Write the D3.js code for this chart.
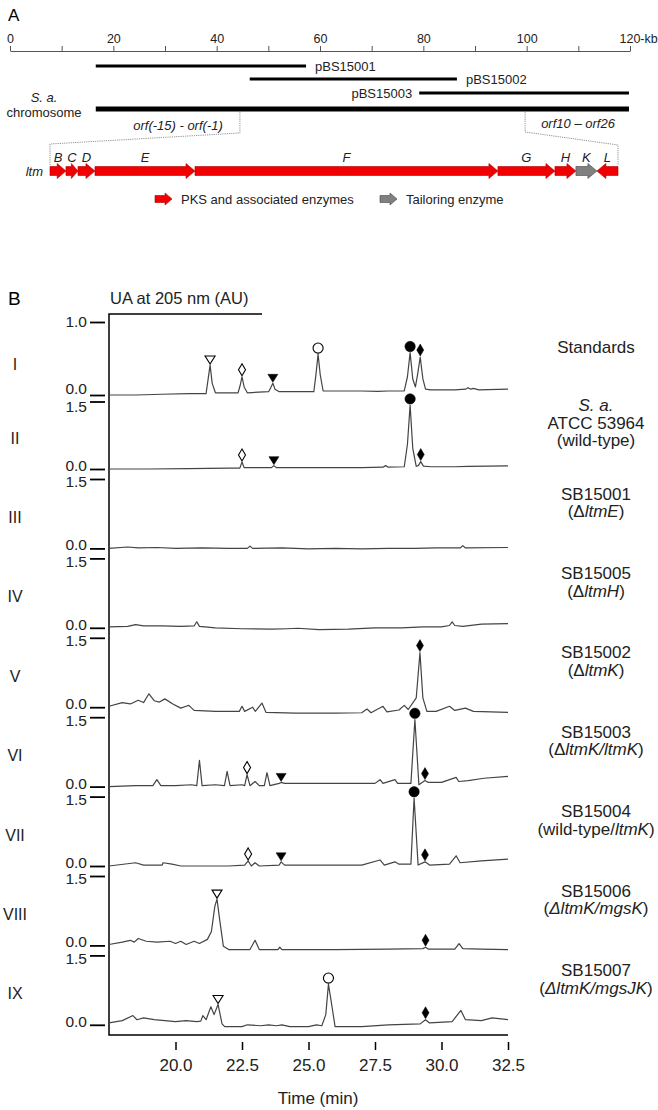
<!DOCTYPE html>
<html>
<head>
<meta charset="utf-8">
<script src="https://cdn.jsdelivr.net/npm/d3@7"></script>
<style>
  body { margin: 0; background: #fff; }
  svg { font-family: "Liberation Sans", Arial, sans-serif; }
</style>
</head>
<body>
<div id="chart"></div>
<script>
// ---------- panel A data ----------
const rulerTicks = [0, 10, 20, 30, 40, 50, 60, 70, 80, 90, 100, 110, 120];
const plasmidNames = ["pBS15001", "pBS15002", "pBS15003"];
const plasmidStart = [16.6, 46.4, 79.2];
const plasmidEnd = [57.3, 86.5, 119.8];
const plasmidLabelSide = ["right", "right", "left"];
const chromosome = [16.6, 119.8];
const clusterSpan = [44.5, 99.7]; // ltm region on the chromosome (kb)

const geneNames = ["B", "C", "D", "E", "F", "G", "H", "K", "L"];
const geneStart = [44.5, 46.05, 47.22, 48.87, 58.59, 88.03, 93.57, 95.61, 97.65];
const geneEnd = [46.05, 47.22, 48.87, 58.59, 88.03, 93.57, 95.61, 97.65, 99.7];
const geneStrand = [1, 1, 1, 1, 1, 1, 1, 1, -1];
const geneType = ["pks", "pks", "pks", "pks", "pks", "pks", "pks", "tailor", "pks"];
const legendTypes = ["pks", "tailor"];
const legendLabels = ["PKS and associated enzymes", "Tailoring enzyme"];

// ---------- panel B data ----------
const traceNames = ["I", "II", "III", "IV", "V", "VI", "VII", "VIII", "IX"];
const yTickMax = [1.0, 1.5, 1.5, 1.5, 1.5, 1.5, 1.5, 1.5, 1.5];
const timeTicks = [20.0, 22.5, 25.0, 27.5, 30.0, 32.5];

// [time (min), absorbance (AU)]
const traceStandards = [[17.5,0],[18.5,0.0],[19.5,0.01],[20.5,0.02],[21.15,0.02],[21.22,0.2],[21.3,0.41],[21.38,0.16],[21.5,0.03],[22.35,0.03],[22.43,0.13],[22.5,0.25],[22.58,0.11],[22.7,0.03],[23.5,0.045],[23.58,0.1],[23.66,0.16],[23.74,0.08],[23.9,0.045],[25.2,0.045],[25.28,0.28],[25.36,0.56],[25.44,0.28],[25.55,0.055],[26.5,0.055],[27.0,0.055],[27.6,0.05],[28.0,0.055],[28.6,0.055],[28.72,0.25],[28.82,0.58],[28.92,0.22],[29.02,0.11],[29.1,0.28],[29.2,0.52],[29.3,0.22],[29.4,0.08],[29.6,0.07],[30.5,0.07],[30.9,0.08],[31.0,0.1],[31.1,0.08],[31.2,0.09],[31.4,0.07],[32.5,0.08]];
const traceWT = [[17.5,0],[19.0,0.0],[20.5,0.01],[22.0,0.02],[22.42,0.02],[22.5,0.155],[22.58,0.03],[23.6,0.03],[23.7,0.075],[23.8,0.03],[25.5,0.03],[27.0,0.03],[27.8,0.04],[27.9,0.075],[28.0,0.04],[28.6,0.05],[28.72,0.55],[28.82,1.42],[28.92,0.46],[29.05,0.06],[29.13,0.075],[29.22,0.165],[29.32,0.065],[29.6,0.05],[30.5,0.05],[31.0,0.06],[32.5,0.07]];
const traceSB15001 = [[17.5,0],[18.2,0.03],[18.6,0.01],[19.3,0.02],[20.0,0.0],[21.0,0.01],[22.0,0.0],[22.7,0.0],[22.8,0.05],[22.9,0.0],[24.0,0.01],[25.0,-0.01],[26.0,0.0],[27.0,-0.01],[28.0,0.0],[29.0,0.0],[29.8,0.01],[30.3,0.01],[30.7,0.01],[30.8,0.06],[30.9,0.01],[32.5,0.02]];
const traceSB15005 = [[17.5,0.02],[18.2,0.03],[18.5,0.07],[18.8,0.04],[19.5,0.04],[20.2,0.03],[20.7,0.04],[20.8,0.13],[20.9,0.03],[21.5,0.0],[22.5,-0.02],[23.6,-0.03],[24.2,-0.02],[24.6,-0.01],[25.4,-0.04],[26.5,-0.03],[27.5,0.0],[28.5,0.0],[29.3,0.02],[30.0,0.02],[30.3,0.05],[30.4,0.13],[30.5,0.05],[30.8,0.03],[31.5,0.08],[32.5,0.09]];
const traceSB15002 = [[17.5,0.02],[18.0,0.1],[18.3,0.07],[18.6,0.15],[18.8,0.1],[19.0,0.29],[19.2,0.14],[19.4,0.11],[19.6,0.18],[19.9,0.07],[20.2,-0.02],[20.4,0.02],[20.5,0.04],[20.7,-0.07],[21.5,-0.09],[22.4,-0.09],[22.5,0.02],[22.6,-0.09],[22.9,0.0],[23.0,-0.09],[23.25,0.09],[23.4,-0.11],[24.5,-0.13],[26.0,-0.13],[27.0,-0.12],[27.2,-0.04],[27.35,-0.12],[27.8,0.02],[27.95,-0.1],[28.4,-0.06],[28.6,0.04],[28.75,-0.05],[29.05,0.2],[29.19,1.18],[29.3,0.2],[29.45,-0.09],[29.8,-0.09],[30.3,0.02],[30.5,-0.07],[30.9,-0.02],[31.2,-0.09],[32.5,-0.11]];
const traceSB15003 = [[17.5,0],[18.5,0.02],[19.15,0.02],[19.3,0.15],[19.45,0.02],[20.0,0.02],[20.6,0.04],[20.8,0.02],[20.9,0.57],[21.0,0.02],[21.5,0.04],[21.84,0.02],[21.94,0.33],[22.05,0.02],[22.5,0.04],[22.6,0.02],[22.69,0.26],[22.8,0.02],[22.99,0.11],[23.15,0.02],[23.34,0.02],[23.44,0.3],[23.55,0.02],[23.9,0.07],[23.97,0.09],[24.1,0.07],[26.0,0.07],[27.5,0.07],[27.69,0.15],[27.8,0.07],[28.25,0.15],[28.35,0.07],[28.85,0.07],[29.0,1.45],[29.15,0.04],[29.38,0.13],[29.5,0.09],[30.0,0.09],[30.55,0.2],[30.65,0.11],[31.0,0.13],[31.6,0.18],[32.5,0.22]];
const traceSB15004 = [[17.5,0],[18.5,0.07],[18.8,0.02],[19.5,0.02],[19.53,0.07],[19.87,0.04],[20.2,0.0],[21.0,0.0],[22.0,0.0],[22.6,0.02],[22.73,0.11],[22.85,0.0],[22.99,0.07],[23.15,0.0],[23.9,0.02],[23.97,0.09],[24.1,0.02],[25.0,0.02],[26.0,0.02],[27.0,0.02],[27.69,0.13],[27.85,0.02],[28.25,0.09],[28.4,0.04],[28.85,0.04],[28.97,1.47],[29.12,0.02],[29.38,0.09],[29.55,0.02],[30.3,0.04],[30.55,0.22],[30.7,0.07],[31.5,0.11],[32.5,0.15]];
const traceSB15006 = [[17.5,0.02],[18.0,0.07],[18.3,0.11],[18.45,0.07],[18.6,0.15],[18.9,0.09],[19.3,0.07],[19.8,0.09],[20.0,0.04],[20.2,0.09],[20.4,0.02],[20.7,0.09],[20.9,0.04],[21.2,0.13],[21.35,0.3],[21.48,0.85],[21.56,1.0],[21.65,0.6],[21.8,-0.02],[22.0,-0.09],[22.8,-0.09],[22.99,0.11],[23.15,-0.09],[23.85,-0.09],[23.92,-0.04],[24.0,-0.09],[26.0,-0.09],[28.0,-0.08],[29.3,-0.07],[29.4,-0.04],[29.5,-0.08],[30.5,-0.08],[30.66,0.04],[30.8,-0.07],[31.5,-0.08],[32.5,-0.09]];
const traceSB15007 = [[17.5,0.04],[18.0,0.09],[18.4,0.2],[18.55,0.11],[18.8,0.15],[19.2,0.11],[19.6,0.09],[20.0,0.07],[20.4,0.09],[20.8,0.07],[20.95,0.08],[21.03,0.2],[21.15,0.11],[21.33,0.39],[21.45,0.22],[21.6,0.44],[21.75,0.02],[21.85,-0.04],[22.5,-0.04],[22.7,0.0],[23.2,-0.02],[23.5,0.0],[23.8,-0.02],[24.0,0.0],[24.3,-0.04],[25.0,-0.04],[25.3,0.0],[25.5,-0.02],[25.65,0.22],[25.75,0.88],[25.9,0.33],[26.0,-0.04],[27.0,-0.04],[28.0,0.0],[29.2,0.02],[29.4,0.11],[29.55,0.04],[30.4,0.07],[30.73,0.31],[30.9,0.11],[31.5,0.09],[31.9,0.15],[32.5,0.11]];
const traces = [traceStandards, traceWT, traceSB15001, traceSB15005, traceSB15002, traceSB15003, traceSB15004, traceSB15006, traceSB15007];

// peak markers: [trace index, time, shape]
const peakMarkers = [
  [0, 21.3, "triOpen"], [0, 22.5, "diaOpen"], [0, 23.66, "triFill"], [0, 25.36, "circOpen"], [0, 28.82, "circFill"], [0, 29.2, "diaFill"],
  [1, 28.82, "circFill"], [1, 22.5, "diaOpen"], [1, 23.7, "triFill"], [1, 29.22, "diaFill"],
  [4, 29.19, "diaFill"],
  [5, 29.0, "circFill"], [5, 29.38, "diaFill"], [5, 22.69, "diaOpen"], [5, 23.97, "triFill"],
  [6, 28.97, "circFill"], [6, 29.38, "diaFill"], [6, 22.73, "diaOpen"], [6, 23.97, "triFill"],
  [7, 21.56, "triOpen"], [7, 29.4, "diaFill"],
  [8, 21.6, "triOpen"], [8, 25.75, "circOpen"], [8, 29.4, "diaFill"]
];

// sample labels: lines of [text, italic]
const sampleLabels = [
  [[["Standards", 0]]],
  [[["S. a.", 1]], [["ATCC 53964", 0]], [["(wild-type)", 0]]],
  [[["SB15001", 0]], [["(Δ", 0], ["ltmE", 1], [")", 0]]],
  [[["SB15005", 0]], [["(Δ", 0], ["ltmH", 1], [")", 0]]],
  [[["SB15002", 0]], [["(Δ", 0], ["ltmK", 1], [")", 0]]],
  [[["SB15003", 0]], [["(Δ", 0], ["ltmK/ltmK", 1], [")", 0]]],
  [[["SB15004", 0]], [["(wild-type/", 0], ["ltmK", 1], [")", 0]]],
  [[["SB15006", 0]], [["(", 0], ["ΔltmK/mgsK", 1], [")", 0]]],
  [[["SB15007", 0]], [["(", 0], ["ΔltmK/mgsJK", 1], [")", 0]]]
];

const width = 658, height = 1110;
const svg = d3.select("#chart").append("svg")
  .attr("width", width)
  .attr("height", height);

// ================= Panel A =================
svg.append("text").attr("x", 8).attr("y", 21).attr("font-size", 17).text("A");

const kbX = d3.scaleLinear().domain([0, 120]).range([10, 630]);
const geneX = d3.scaleLinear().domain(clusterSpan).range([50, 618]);

const ruler = svg.append("g")
  .attr("transform", "translate(0,51)")
  .call(d3.axisTop(kbX).tickValues(rulerTicks).tickSize(5).tickSizeOuter(0).tickPadding(3)
    .tickFormat(d => d % 20 === 0 ? d : ""));
ruler.selectAll("path, line").attr("stroke", "#555");
ruler.selectAll("text").attr("font-size", 12.5).attr("fill", "#222")
  .attr("font-family", "Liberation Sans, Arial, sans-serif");
ruler.selectAll("text").filter(d => d === 120)
  .attr("text-anchor", "start").attr("x", -11).text("120-kb");

// plasmid bars
const plasmidY = [66, 79, 93];
plasmidNames.forEach((name, i) => {
  svg.append("line")
    .attr("x1", kbX(plasmidStart[i])).attr("x2", kbX(plasmidEnd[i]))
    .attr("y1", plasmidY[i]).attr("y2", plasmidY[i])
    .attr("stroke", "#000").attr("stroke-width", 3.2);
  const right = plasmidLabelSide[i] === "right";
  svg.append("text")
    .attr("x", right ? kbX(plasmidEnd[i]) + 9 : kbX(plasmidStart[i]) - 7)
    .attr("y", plasmidY[i]).attr("dy", "0.35em")
    .attr("text-anchor", right ? "start" : "end")
    .attr("font-size", 13).attr("fill", "#222")
    .text(name);
});

// chromosome
svg.append("line")
  .attr("x1", kbX(chromosome[0])).attr("x2", kbX(chromosome[1]))
  .attr("y1", 109).attr("y2", 109)
  .attr("stroke", "#000").attr("stroke-width", 5);
svg.append("text").attr("x", 44).attr("y", 97.5).attr("dy", "0.35em")
  .attr("text-anchor", "middle").attr("font-size", 13).attr("font-style", "italic").attr("fill", "#222")
  .text("S. a.");
svg.append("text").attr("x", 44).attr("y", 112).attr("dy", "0.35em")
  .attr("text-anchor", "middle").attr("font-size", 13).attr("fill", "#222")
  .text("chromosome");

svg.append("text").attr("x", 178).attr("y", 125).attr("dy", "0.35em")
  .attr("text-anchor", "middle").attr("font-size", 13).attr("font-style", "italic").attr("fill", "#222")
  .text("orf(-15) - orf(-1)");
svg.append("text").attr("x", 578).attr("y", 123).attr("dy", "0.35em")
  .attr("text-anchor", "middle").attr("font-size", 13).attr("font-style", "italic").attr("fill", "#222")
  .text("orf10 – orf26");

// zoom-in guide lines
const geneY = 171;
const guide = d3.line();
[[kbX(clusterSpan[0]), geneX.range()[0], 133, 144], [kbX(clusterSpan[1]), geneX.range()[1], 132, 145]].forEach(g => {
  svg.append("path")
    .attr("d", guide([[g[0], 112], [g[0], g[2]], [g[1], g[3]], [g[1], geneY - 6]]))
    .attr("fill", "none").attr("stroke", "#777").attr("stroke-width", 0.8)
    .attr("stroke-dasharray", "1.2,1");
});

// gene arrows
const geneColor = { pks: "#f00000", tailor: "#808080" };
const geneStroke = { pks: "#b00000", tailor: "#444" };
function arrowPath(x0, x1, cy, strand, h, H, maxHead) {
  const len = x1 - x0;
  const hl = Math.min(maxHead, len * 0.55);
  if (strand > 0) {
    return `M${x0},${cy - h}L${x1 - hl},${cy - h}L${x1 - hl},${cy - H}L${x1},${cy}L${x1 - hl},${cy + H}L${x1 - hl},${cy + h}L${x0},${cy + h}Z`;
  }
  return `M${x1},${cy - h}L${x0 + hl},${cy - h}L${x0 + hl},${cy - H}L${x0},${cy}L${x0 + hl},${cy + H}L${x0 + hl},${cy + h}L${x1},${cy + h}Z`;
}
svg.append("text").attr("x", 43).attr("y", geneY).attr("dy", "0.35em")
  .attr("text-anchor", "end").attr("font-size", 13).attr("font-style", "italic").attr("fill", "#222")
  .text("ltm");
geneNames.forEach((g, i) => {
  const x0 = geneX(geneStart[i]), x1 = geneX(geneEnd[i]);
  svg.append("path")
    .attr("d", arrowPath(x0, x1, geneY, geneStrand[i], 4.5, 7.5, 9))
    .attr("fill", geneColor[geneType[i]])
    .attr("stroke", geneStroke[geneType[i]]).attr("stroke-width", 0.6);
  svg.append("text")
    .attr("x", (x0 + x1) / 2).attr("y", 157).attr("dy", "0.35em")
    .attr("text-anchor", "middle").attr("font-size", 13).attr("font-style", "italic").attr("fill", "#222")
    .text(g);
});

// legend
const legendX = [155, 380];
legendTypes.forEach((t, i) => {
  svg.append("path")
    .attr("d", arrowPath(legendX[i], legendX[i] + 17, 199, 1, 3.5, 6, 7))
    .attr("fill", geneColor[t]).attr("stroke", geneStroke[t]).attr("stroke-width", 0.6);
  svg.append("text")
    .attr("x", legendX[i] + 26).attr("y", 199).attr("dy", "0.35em")
    .attr("font-size", 13).attr("fill", "#222")
    .text(legendLabels[i]);
});

// ================= Panel B =================
svg.append("text").attr("x", 8).attr("y", 298).attr("dy", "0.35em").attr("font-size", 19).text("B");
svg.append("text").attr("x", 110).attr("y", 298).attr("dy", "0.35em").attr("font-size", 16.5).attr("fill", "#222")
  .text("UA at 205 nm (AU)");

const plotLeft = 109, plotRight = 508, plotTop = 314, plotBottom = 1035;
const tx = d3.scaleLinear().domain([17.5, 32.5]).range([plotLeft, plotRight]);
const zeroY = i => i === 0 ? 395 : 469 + 79.4 * (i - 1);
const topY = i => i === 0 ? 322 : zeroY(i - 1) + (i === 1 ? 6.5 : 10);

// frame
svg.append("path")
  .attr("d", `M262,${plotTop}H${plotLeft}V${plotBottom}H${plotRight}`)
  .attr("fill", "none").attr("stroke", "#000").attr("stroke-width", 1.5);

// x axis (detached ticks)
const xAxis = svg.append("g")
  .attr("transform", `translate(0,${plotBottom + 7})`)
  .call(d3.axisBottom(tx).tickValues(timeTicks).tickSize(8).tickPadding(9).tickFormat(d3.format(".1f")));
xAxis.select(".domain").remove();
xAxis.selectAll("line").attr("stroke", "#000").attr("stroke-width", 1.5);
xAxis.selectAll("text").attr("font-size", 17).attr("fill", "#222")
  .attr("font-family", "Liberation Sans, Arial, sans-serif");

svg.append("text").attr("x", 318).attr("y", 1098).attr("dy", "0.35em")
  .attr("text-anchor", "middle").attr("font-size", 17).attr("fill", "#222")
  .text("Time (min)");

const line = d3.line();
const shapes = {
  triOpen: "M-5,-4L5,-4L0,4Z",
  triFill: "M-5,-4L5,-4L0,4Z",
  diaOpen: "M0,-6L3.5,0L0,6L-3.5,0Z",
  diaFill: "M0,-6L3.5,0L0,6L-3.5,0Z",
  circOpen: d3.symbol(d3.symbolCircle, 80)(),
  circFill: d3.symbol(d3.symbolCircle, 85)()
};
const shapeHalf = { triOpen: 4, triFill: 4, diaOpen: 6, diaFill: 6, circOpen: 5, circFill: 5.2 };

traces.forEach((data, i) => {
  const ys = d3.scaleLinear().domain([0, yTickMax[i]]).range([zeroY(i), topY(i)]);
  const g = svg.append("g");

  const yAxis = g.append("g")
    .attr("transform", "translate(105,0)")
    .call(d3.axisLeft(ys).tickValues([0, yTickMax[i]]).tickSize(15).tickPadding(3).tickFormat(d3.format(".1f")));
  yAxis.select(".domain").remove();
  yAxis.selectAll("line").attr("stroke", "#000").attr("stroke-width", 1.8);
  // zero label sits just above its dash, top label just below
  const zeroShift = i === 0 ? -6.5 : -3.5;
  const topShift = i === 0 ? 0 : (i === 1 ? 5.5 : 3);
  yAxis.selectAll("text").attr("font-size", 15.5).attr("fill", "#222")
    .attr("font-family", "Liberation Sans, Arial, sans-serif")
    .attr("y", d => (d === 0 ? zeroShift : topShift));

  g.append("text").attr("x", 15).attr("y", zeroY(i) - 31).attr("dy", "0.35em")
    .attr("text-anchor", "middle").attr("font-size", 16).attr("fill", "#222")
    .text(traceNames[i]);

  g.append("path")
    .attr("d", line(data.map(d => [tx(d[0]), ys(d[1])])))
    .attr("fill", "none").attr("stroke", "#444").attr("stroke-width", 1.2)
    .attr("stroke-linejoin", "round");

  // sample label
  const lines = sampleLabels[i];
  const cy = zeroY(i) - (i === 0 ? 48 : 46);
  lines.forEach((segs, k) => {
    const t = g.append("text")
      .attr("x", 596).attr("y", cy + (k - (lines.length - 1) / 2) * 17.5).attr("dy", "0.35em")
      .attr("text-anchor", "middle").attr("font-size", 17).attr("fill", "#222");
    segs.forEach(s => t.append("tspan").attr("font-style", s[1] ? "italic" : "normal").text(s[0]));
  });

  // peak markers
  peakMarkers.filter(m => m[0] === i).forEach(m => {
    const near = data.filter(d => Math.abs(d[0] - m[1]) <= 0.12);
    const peak = d3.max(near, d => d[1]);
    const y = ys(peak) - shapeHalf[m[2]] - 1;
    const open = m[2].endsWith("Open");
    g.append("path")
      .attr("d", shapes[m[2]])
      .attr("transform", `translate(${tx(m[1])},${y})`)
      .attr("fill", open ? "#fff" : "#000")
      .attr("stroke", "#000").attr("stroke-width", open ? 1.1 : 0.5);
  });
});
</script>
</body>
</html>
